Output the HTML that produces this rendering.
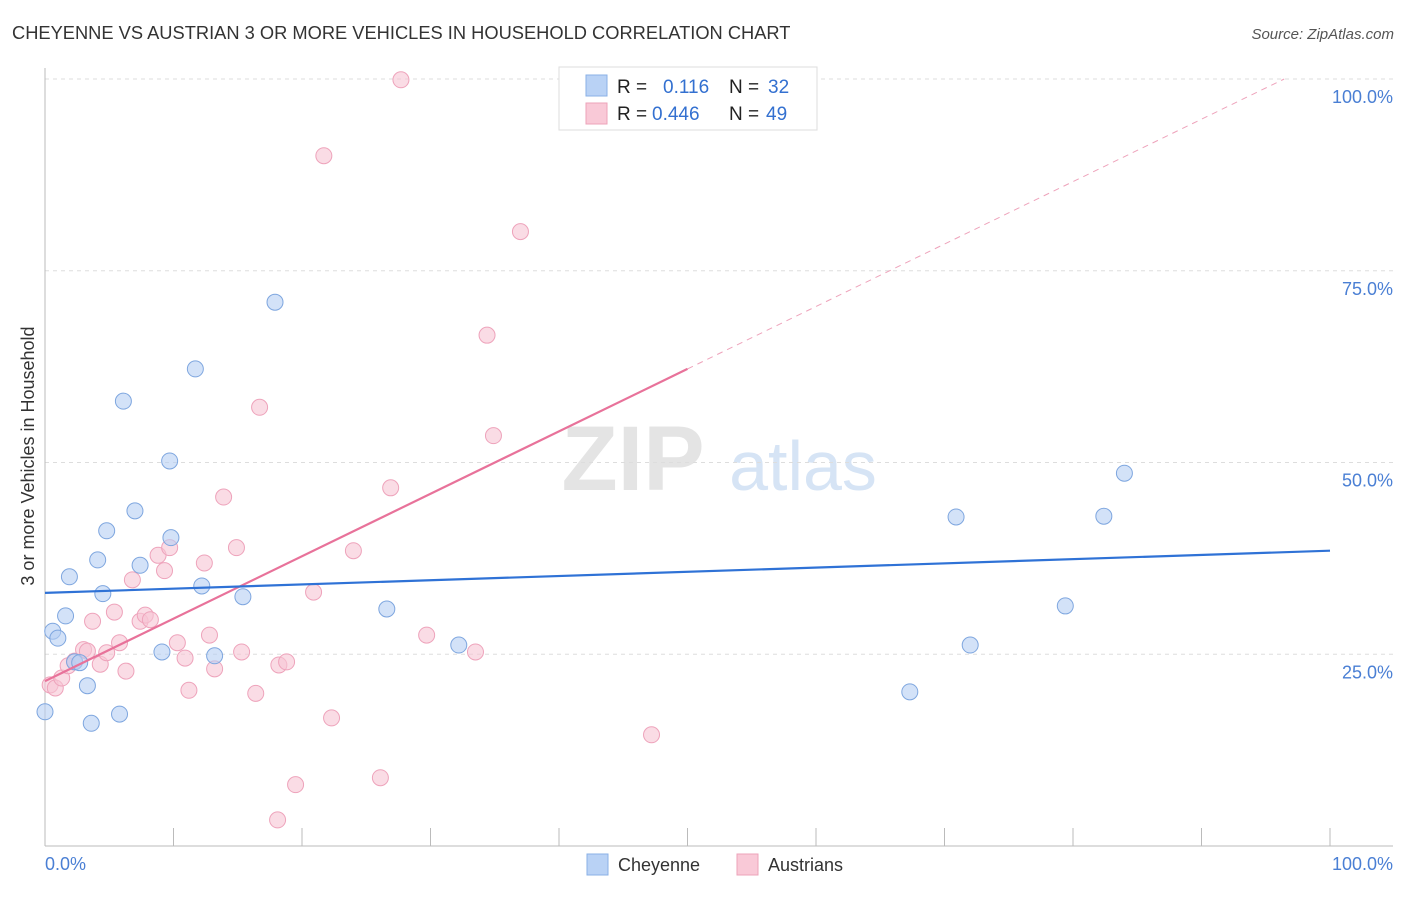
<!DOCTYPE html>
<html><head><meta charset="utf-8">
<style>
body{margin:0;background:#fff;font-family:"Liberation Sans",sans-serif;}
svg text{font-family:"Liberation Sans",sans-serif;}
</style></head>
<body>
<svg id="chart" width="1406" height="892">
<text x="12" y="39" font-size="18.3" fill="#333">CHEYENNE VS AUSTRIAN 3 OR MORE VEHICLES IN HOUSEHOLD CORRELATION CHART</text>
<text x="1394" y="39" font-size="15" fill="#555" font-style="italic" text-anchor="end">Source: ZipAtlas.com</text>
<g>
<text x="633" y="490" font-size="92" fill="#e4e4e4" font-family="Liberation Serif" text-anchor="middle" font-weight="bold">ZIP</text>
<text x="803" y="490" font-size="70" fill="#d6e4f5" text-anchor="middle">atlas</text>
</g>
<g id="grid"></g>
<g id="axes"></g>
<g id="marks"></g>
<text transform="translate(34,456) rotate(-90)" font-size="18" fill="#333" text-anchor="middle">3 or more Vehicles in Household</text>
<text x="45" y="870" font-size="18" fill="#4a7fd4">0.0%</text>
<text x="1393" y="870" font-size="18" fill="#4a7fd4" text-anchor="end">100.0%</text>
<g>
<rect x="587" y="854" width="21" height="21" fill="#b9d2f5" stroke="#8ab0e6"/>
<text x="618" y="871" font-size="18" fill="#333">Cheyenne</text>
<rect x="737" y="854" width="21" height="21" fill="#f9c9d7" stroke="#eda3ba"/>
<text x="768" y="871" font-size="18" fill="#333">Austrians</text>
</g>
<g>
<rect x="559" y="67" width="258" height="63" fill="#fff" stroke="#ddd"/>
<rect x="586" y="75" width="21" height="21" fill="#b9d2f5" stroke="#8ab0e6"/>
<rect x="586" y="103" width="21" height="21" fill="#f9c9d7" stroke="#eda3ba"/>
<text x="617" y="93" font-size="19" fill="#222">R = </text>
<text x="663" y="93" font-size="19" fill="#3370d0">0.116</text>
<text x="729" y="93" font-size="19" fill="#222">N = </text>
<text x="768" y="93" font-size="19" fill="#3370d0">32</text>
<text x="617" y="120" font-size="19" fill="#222">R = </text>
<text x="652" y="120" font-size="19" fill="#3370d0">0.446</text>
<text x="729" y="120" font-size="19" fill="#222">N = </text>
<text x="766" y="120" font-size="19" fill="#3370d0">49</text>
</g>
</svg>
<script>
const yTicks=[25,50,75,100];
const yTickLabels=["25.0%","50.0%","75.0%","100.0%"];
const xTicks=[0,10,20,30,40,50,60,70,80,90,100];
const cheyenneX=[0,0.6,1.0,1.6,1.9,2.3,2.7,3.3,3.6,4.1,4.5,4.8,5.8,6.1,7.0,7.4,9.1,9.7,9.8,11.7,12.2,13.2,15.4,17.9,26.6,32.2,67.3,70.9,72.0,79.4,82.4,84.0];
const cheyenneY=[17.5,28.0,27.1,30.0,35.1,24.0,23.9,20.9,16.0,37.3,32.9,41.1,17.2,58.0,43.7,36.6,25.3,50.2,40.2,62.2,33.9,24.8,32.5,70.9,30.9,26.2,20.1,42.9,26.2,31.3,43.0,48.6];
const austrianX=[0.4,0.8,1.3,1.8,2.3,3.0,3.3,3.7,4.3,4.8,5.4,5.8,6.3,6.8,7.4,7.8,8.2,8.8,9.3,9.7,10.3,10.9,11.2,12.4,12.8,13.2,13.9,14.9,15.3,16.4,16.7,18.2,18.8,18.1,19.5,20.9,21.7,22.3,24.0,26.1,26.9,27.7,29.7,33.5,34.4,34.9,37.0,41.4,47.2];
const austrianY=[21.0,20.6,21.9,23.5,24.1,25.6,25.4,29.3,23.7,25.2,30.5,26.5,22.8,34.7,29.3,30.1,29.5,37.9,35.9,38.9,26.5,24.5,20.3,36.9,27.5,23.1,45.5,38.9,25.3,19.9,57.2,23.6,24.0,3.4,8.0,33.1,90.0,16.7,38.5,8.9,46.7,99.9,27.5,25.3,66.6,53.5,80.1,100,14.5];
const cheyenneTrend=[33.0,38.5];
const austrianTrend=[21.5,62.2];
const austrianTrendEnd=50;

const NS="http://www.w3.org/2000/svg";
const X0=45,X1=1330,YB=846,YT=79;
const sx=v=>X0+(X1-X0)*v/100;
const sy=v=>YB-(YB-YT)*v/100;
function mk(tag,attrs,parent){const e=document.createElementNS(NS,tag);for(const k in attrs)e.setAttribute(k,attrs[k]);parent.appendChild(e);return e;}
const grid=document.getElementById('grid'),axes=document.getElementById('axes'),marks=document.getElementById('marks');
yTicks.forEach((t,i)=>{
  const l=mk('line',{x1:X0,x2:1393,y1:sy(t),y2:sy(t),stroke:'#ddd','stroke-dasharray':'4,4'},grid);
  
  
  const tx=mk('text',{x:1393,y:sy(t)+24,'font-size':18,fill:'#4a7fd4','text-anchor':'end'},grid);
  tx.textContent=yTickLabels[i];
  
  
});
const ax=mk('line',{x1:X0,x2:X0,y1:68,y2:YB,stroke:'#bbb'},axes);


const bx=mk('line',{x1:X0,x2:1393,y1:YB,y2:YB,stroke:'#bbb'},axes);


xTicks.forEach(t=>{
  const l=mk('line',{x1:sx(t),x2:sx(t),y1:YB,y2:828,stroke:'#bbb'},axes);
  
  
});
austrianX.forEach((x,i)=>{
  const c=mk('circle',{cx:sx(x),cy:sy(austrianY[i]),r:8,fill:'#f7c4d3','fill-opacity':0.6,stroke:'#eea3bb','stroke-width':1},marks);
  
  
});
cheyenneX.forEach((x,i)=>{
  const c=mk('circle',{cx:sx(x),cy:sy(cheyenneY[i]),r:8,fill:'#b5cff3','fill-opacity':0.6,stroke:'#7ea6df','stroke-width':1},marks);
  
  
});
const slope=(austrianTrend[1]-austrianTrend[0])/austrianTrendEnd;
const xEnd=(100-austrianTrend[0])/slope;
const d=mk('line',{x1:sx(austrianTrendEnd),y1:sy(austrianTrend[1]),x2:sx(xEnd),y2:sy(100),stroke:'#eea3bb','stroke-dasharray':'6,5','stroke-width':1},marks);


const pt=mk('line',{x1:sx(0),y1:sy(austrianTrend[0]),x2:sx(austrianTrendEnd),y2:sy(austrianTrend[1]),stroke:'#e8729a','stroke-width':2.2},marks);


const bt=mk('line',{x1:sx(0),y1:sy(cheyenneTrend[0]),x2:sx(100),y2:sy(cheyenneTrend[1]),stroke:'#2f72d6','stroke-width':2.2},marks);


</script>
</body></html>
